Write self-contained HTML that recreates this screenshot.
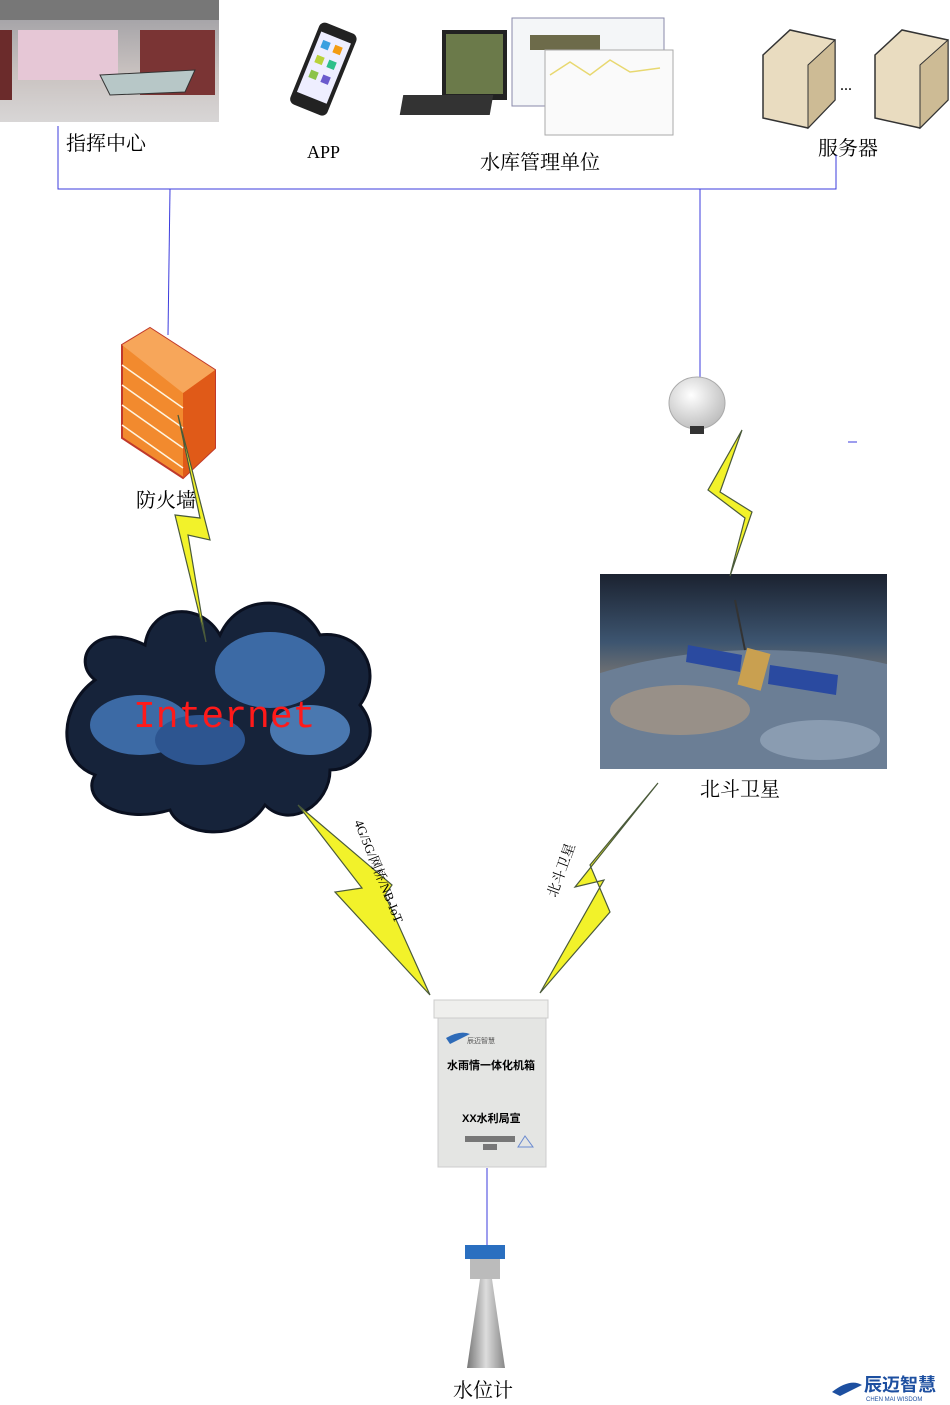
<!DOCTYPE html>
<html><head><meta charset="utf-8"><style>
body{margin:0;background:#fff}
svg{display:block}
text{font-family:"Liberation Serif","Noto Serif CJK SC",serif}
</style></head><body>
<svg width="950" height="1405" viewBox="0 0 950 1405" xmlns="http://www.w3.org/2000/svg">
<defs>
<linearGradient id="sky" x1="0" y1="0" x2="0" y2="1"><stop offset="0" stop-color="#1b2230"/><stop offset="0.35" stop-color="#3d5570"/><stop offset="0.6" stop-color="#8a7f73"/><stop offset="1" stop-color="#5d7290"/></linearGradient>
<linearGradient id="room" x1="0" y1="0" x2="0" y2="1"><stop offset="0" stop-color="#9a9aa0"/><stop offset="0.6" stop-color="#c9c2c0"/><stop offset="1" stop-color="#d8d6d6"/></linearGradient>
<radialGradient id="dome" cx="0.4" cy="0.35" r="0.7"><stop offset="0" stop-color="#fff"/><stop offset="1" stop-color="#bbb"/></radialGradient>
<linearGradient id="cone" x1="0" x2="1"><stop offset="0" stop-color="#777"/><stop offset="0.5" stop-color="#ddd"/><stop offset="1" stop-color="#888"/></linearGradient>
<clipPath id="sat"><rect x="600" y="574" width="287" height="195"/></clipPath>
</defs>
<!-- command center photo -->
<rect x="0" y="0" width="219" height="122" fill="url(#room)"/>
<rect x="18" y="30" width="100" height="50" fill="#e6c7d6"/>
<rect x="0" y="30" width="12" height="70" fill="#6b2b2b"/><rect x="140" y="30" width="75" height="65" fill="#7a3434"/>
<polygon points="100,75 195,70 185,92 110,95" fill="#b7c7c7" stroke="#333"/>
<rect x="0" y="0" width="219" height="20" fill="#777"/>
<!-- phone -->
<g transform="rotate(22 323 70)"><rect x="303" y="25" width="40" height="88" rx="6" fill="#222"/><rect x="307" y="35" width="32" height="65" fill="#eef"/>
<rect x="312" y="42" width="8" height="8" fill="#3aa0e0"/><rect x="325" y="42" width="8" height="8" fill="#f39c12"/><rect x="312" y="58" width="8" height="8" fill="#b8d23a"/><rect x="325" y="58" width="8" height="8" fill="#2dbf8a"/><rect x="312" y="74" width="8" height="8" fill="#8bc34a"/><rect x="325" y="74" width="8" height="8" fill="#6a5acd"/></g>
<!-- computer -->
<rect x="442" y="30" width="65" height="70" fill="#222"/><rect x="446" y="34" width="57" height="60" fill="#6b7a4a"/>
<rect x="420" y="95" width="90" height="20" fill="#333" transform="skewX(-10)"/>
<rect x="512" y="18" width="152" height="88" fill="#f4f6f8" stroke="#88a"/>
<rect x="530" y="35" width="70" height="15" fill="#6d6b4a"/>
<rect x="545" y="50" width="128" height="85" fill="#fafafa" stroke="#aaa"/>
<polyline points="550,75 570,62 590,75 610,60 630,72 660,68" fill="none" stroke="#e8d870" stroke-width="1.5"/>
<!-- servers -->
<g fill="#e9dcc0" stroke="#333" stroke-width="1.5">
<polygon points="763,55 790,30 835,40 835,100 808,128 763,118"/><polygon points="875,55 902,30 948,40 948,100 920,128 875,118"/></g>
<g fill="#cdbb95" stroke="#333"><polygon points="808,65 835,40 835,100 808,128"/><polygon points="920,65 948,40 948,100 920,128"/></g>
<text x="840" y="90" font-size="16">...</text>
<!-- labels -->
<text x="66" y="150" font-size="20">指挥中心</text>
<text x="307" y="158" font-size="18">APP</text>
<text x="480" y="169" font-size="20">水库管理单位</text>
<text x="818" y="155" font-size="20">服务器</text>
<!-- bus lines -->
<g stroke="#3b3bdd" stroke-width="1" fill="none">
<polyline points="58,126 58,189 836,189 836,155"/>
<line x1="170" y1="189" x2="168" y2="335"/><line x1="700" y1="189" x2="700" y2="385"/>
<line x1="487" y1="1168" x2="487" y2="1245"/><line x1="848" y1="442" x2="857" y2="442"/></g>
<!-- firewall -->
<polygon points="122,345 150,328 215,370 215,448 183,478 122,438" fill="#f28a2e" stroke="#c0392b" stroke-width="2"/>
<polygon points="183,393 215,370 215,448 183,478" fill="#e05a18"/>
<polygon points="122,345 150,328 215,370 183,393" fill="#f7a65a"/>
<g stroke="#fff5e0" stroke-width="1.5"><line x1="122" y1="365" x2="183" y2="408"/><line x1="122" y1="385" x2="183" y2="428"/><line x1="122" y1="405" x2="183" y2="448"/><line x1="122" y1="425" x2="183" y2="468"/></g>
<text x="136" y="507" font-size="20">防火墙</text>
<!-- dome -->
<ellipse cx="697" cy="403" rx="28" ry="26" fill="url(#dome)" stroke="#aaa"/>
<rect x="690" y="426" width="14" height="8" fill="#333"/>
<!-- satellite photo -->
<g clip-path="url(#sat)">
<rect x="600" y="574" width="287" height="195" fill="url(#sky)"/>
<ellipse cx="760" cy="800" rx="300" ry="150" fill="#6b7e95"/>
<ellipse cx="680" cy="710" rx="70" ry="25" fill="#b59c80" opacity="0.6"/>
<ellipse cx="820" cy="740" rx="60" ry="20" fill="#9fb0c5" opacity="0.6"/>
<polygon points="688,645 742,655 740,672 686,662" fill="#2a4aa0"/><polygon points="770,665 838,675 836,695 768,684" fill="#2a4aa0"/>
<rect x="742" y="650" width="24" height="38" fill="#c9a050" transform="rotate(15 753 669)"/>
<line x1="735" y1="600" x2="745" y2="650" stroke="#333" stroke-width="2"/>
</g>
<text x="700" y="796" font-size="20">北斗卫星</text>
<!-- cloud -->
<path d="M95,680 C70,660 95,620 145,645 C150,605 200,600 220,635 C240,590 300,595 320,635 C360,630 385,670 360,705 C385,735 360,770 330,770 C330,805 290,830 265,805 C240,845 180,835 170,810 C120,825 80,800 95,775 C55,760 60,705 95,680 Z" fill="#16233a" stroke="#0a1020" stroke-width="3"/>
<ellipse cx="270" cy="670" rx="55" ry="38" fill="#3c6aa5"/><ellipse cx="140" cy="725" rx="50" ry="30" fill="#3c6aa5"/><ellipse cx="310" cy="730" rx="40" ry="25" fill="#4a78b0"/><ellipse cx="200" cy="740" rx="45" ry="25" fill="#2d5590"/>
<text x="133" y="727" font-size="38" fill="#ff1a1a" style="font-family:'Liberation Mono',monospace">Internet</text>
<!-- bolts -->
<g fill="#f2f22a" stroke="#4a5a3a" stroke-width="1.2" stroke-linejoin="miter">
<polygon points="178,415 200,518 175,515 206,642 188,535 210,540"/>
<polygon points="742,430 708,490 745,518 730,576 752,512 720,492"/>
<polygon points="298,805 362,888 335,892 430,995 385,895 392,885"/>
<polygon points="658,783 590,865 610,912 540,993 604,880 575,887"/>
</g>
<text font-size="13" transform="translate(354,822) rotate(68)">4G/5G/网桥/NB-IoT</text>
<text font-size="14" transform="translate(556,898) rotate(-70)">北斗卫星</text>
<!-- cabinet -->
<rect x="438" y="1005" width="108" height="162" fill="#e4e5e3" stroke="#ccc"/>
<rect x="434" y="1000" width="114" height="18" fill="#efefed" stroke="#ccc"/>
<path d="M446,1038 Q460,1030 470,1034 L450,1044 Z" fill="#2e6bb8"/>
<text x="467" y="1043" font-size="7" fill="#555" style="font-family:'Liberation Sans','Noto Sans CJK SC',sans-serif">辰迈智慧</text>
<text x="447" y="1069" font-size="11" font-weight="bold" style="font-family:'Liberation Sans','Noto Sans CJK SC',sans-serif">水雨情一体化机箱</text>
<text x="462" y="1122" font-size="11" font-weight="bold" style="font-family:'Liberation Sans','Noto Sans CJK SC',sans-serif">XX水利局宣</text>
<rect x="465" y="1136" width="50" height="6" fill="#777"/><rect x="483" y="1144" width="14" height="6" fill="#777"/>
<polygon points="525,1136 518,1147 533,1147" fill="none" stroke="#6a8ad0"/>
<!-- water level gauge -->
<rect x="465" y="1245" width="40" height="14" fill="#2a6fc0"/>
<rect x="470" y="1259" width="30" height="20" fill="#bbb"/>
<polygon points="480,1279 492,1279 505,1368 467,1368" fill="url(#cone)"/>
<text x="453" y="1397" font-size="20">水位计</text>
<!-- logo -->
<path d="M832,1392 Q850,1378 862,1385 L840,1396 Z" fill="#1d4fa0"/>
<text x="864" y="1391" font-size="18" font-weight="bold" fill="#1d4fa0" style="font-family:'Liberation Sans','Noto Sans CJK SC',sans-serif">辰迈智慧</text>
<text x="866" y="1401" font-size="6" fill="#1d4fa0" style="font-family:'Liberation Sans',sans-serif">CHEN MAI WISDOM</text>
</svg>
</body></html>
